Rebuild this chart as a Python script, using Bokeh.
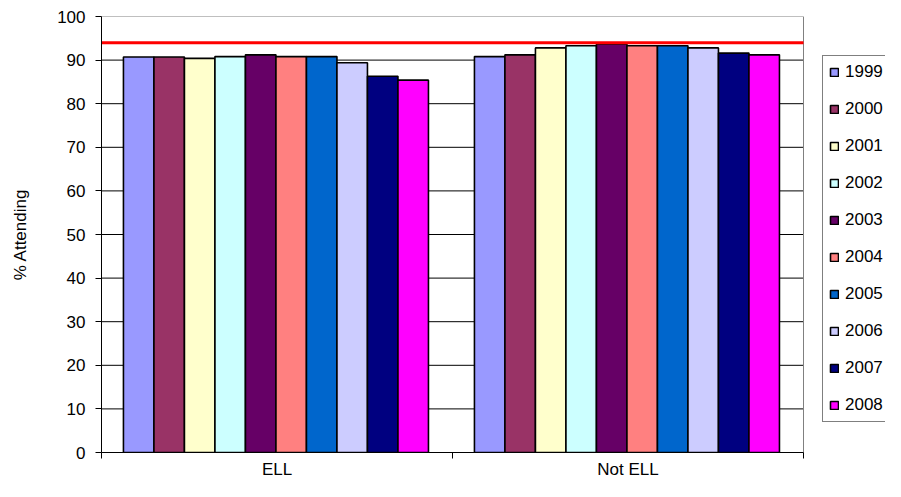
import numpy as np
from bokeh.plotting import figure
from bokeh.models import FixedTicker, Range1d, Legend, LegendItem, ColumnDataSource
from bokeh.embed import file_html
from bokeh.resources import INLINE

categories = ["ELL", "Not ELL"]
years = ["1999", "2000", "2001", "2002", "2003", "2004", "2005", "2006", "2007", "2008"]
ell_values = [90.7, 90.7, 90.4, 90.8, 91.2, 90.8, 90.8, 89.4, 86.3, 85.4]
not_ell_values = [90.8, 91.2, 92.8, 93.3, 93.7, 93.3, 93.3, 92.8, 91.6, 91.2]
target = 94
colors = ["#9999FF", "#993366", "#FFFFCC", "#CCFFFF", "#660066",
          "#FF8080", "#0066CC", "#CCCCFF", "#000080", "#FF00FF"]
y_ticks = list(range(0, 101, 10))

FONT = "Liberation Sans"
FS = "17px"

W, H = 885, 481
LEFT, TOP, BOTTOM = 101, 16, 25
PLOT_W = 702                      # width of the category area in px
FRAME_W = W - LEFT
ncat = len(categories)
x_end = ncat * FRAME_W / PLOT_W   # frame extends to the right to host the legend

p = figure(width=W, height=H, output_backend="svg", toolbar_location=None,
           x_range=Range1d(0, x_end), y_range=Range1d(0, 100))
p.min_border_left = LEFT
p.min_border_right = 0
p.min_border_top = TOP
p.min_border_bottom = BOTTOM
p.background_fill_color = "white"
p.border_fill_color = "white"
p.outline_line_color = None
p.xgrid.visible = False
p.ygrid.visible = False

# gridlines limited to the category area
inner = y_ticks[:-1]
p.segment(x0=[0] * len(inner), x1=[ncat] * len(inner), y0=inner, y1=inner,
          line_color="black", line_width=1)
# plot area border (top and right) in gray
p.segment(x0=[0, ncat], x1=[ncat, ncat], y0=[100, 0], y1=[100, 100],
          line_color="#808080", line_width=1)

n = len(years)
bar_w = 0.0869
items = []
for i, yr in enumerate(years):
    xs = np.arange(ncat) + 0.497 + (i - (n - 1) / 2) * bar_w
    src = ColumnDataSource(dict(x=xs, top=[ell_values[i], not_ell_values[i]]))
    r = p.vbar(x="x", top="top", width=bar_w, bottom=0, source=src,
               fill_color=colors[i], line_color="black", line_width=1.6)
    items.append(LegendItem(label=yr, renderers=[r]))

# target line
p.segment(x0=[0], x1=[ncat], y0=[target], y1=[target], line_color="#FF0000", line_width=3)

# y axis
p.yaxis.ticker = FixedTicker(ticks=y_ticks)
p.yaxis.axis_label = "% Attending"
p.yaxis.axis_label_text_font = FONT
p.yaxis.axis_label_text_font_size = FS
p.yaxis.axis_label_text_font_style = "normal"
p.yaxis.axis_label_text_color = "black"
p.yaxis.axis_label_standoff = 24
p.yaxis.major_label_text_font = FONT
p.yaxis.major_label_text_font_size = FS
p.yaxis.major_label_text_color = "black"
p.yaxis.major_label_standoff = 10
p.yaxis.major_tick_out = 6
p.yaxis.major_tick_in = 0
p.yaxis.minor_tick_line_color = None
p.yaxis.axis_line_color = "black"
p.yaxis.major_tick_line_color = "black"

# x axis
p.xaxis.bounds = (0, ncat)
p.xaxis.ticker = FixedTicker(ticks=[k + 0.5 for k in range(ncat)],
                             minor_ticks=list(range(ncat + 1)))
p.xaxis.major_label_overrides = {k + 0.5: c for k, c in enumerate(categories)}
p.xaxis.major_tick_out = 0
p.xaxis.major_tick_in = 0
p.xaxis.minor_tick_out = 6
p.xaxis.minor_tick_in = 0
p.xaxis.minor_tick_line_color = "black"
p.xaxis.major_label_text_font = FONT
p.xaxis.major_label_text_font_size = FS
p.xaxis.major_label_text_color = "black"
p.xaxis.major_label_standoff = 1
p.xaxis.axis_line_color = "black"

legend = Legend(items=items, location=(721, 30))
legend.label_text_font = FONT
legend.label_text_font_size = FS
legend.label_text_color = "black"
legend.glyph_width = 10
legend.glyph_height = 10
legend.label_height = 20
legend.label_standoff = 6
legend.spacing = 17
legend.padding = 6
legend.margin = 0
legend.border_line_color = "black"
legend.border_line_width = 1
legend.background_fill_color = "white"
legend.background_fill_alpha = 1
p.add_layout(legend, "center")

open("out.html", "w").write(file_html(p, INLINE))
